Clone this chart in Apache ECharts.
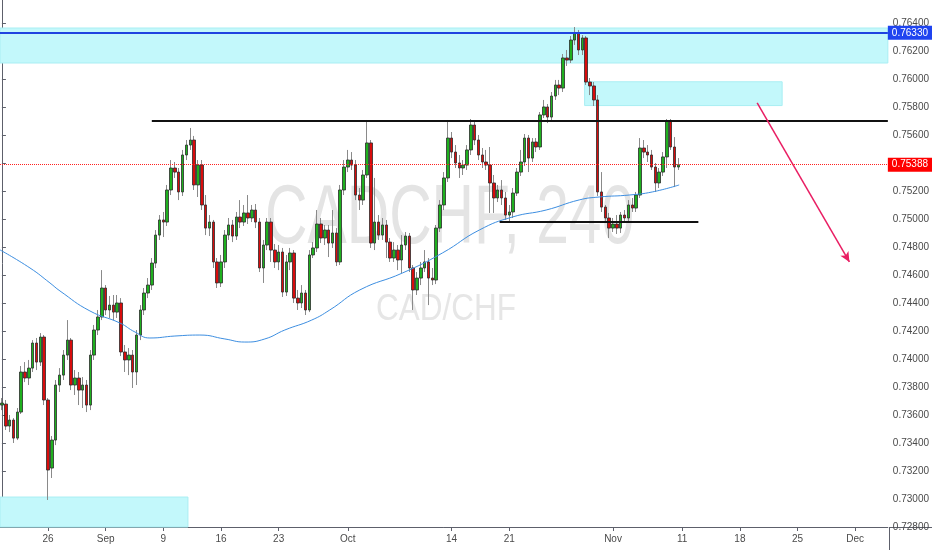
<!DOCTYPE html>
<html><head><meta charset="utf-8">
<script src="https://cdn.jsdelivr.net/npm/echarts@6/dist/echarts.min.js"></script>
<style>html,body{margin:0;padding:0;background:#fff}#c{width:932px;height:550px}</style>
</head><body><div id="c"></div>
<script>
// CAD/CHF 4h-ish candles: [open, close, low, high]
const candles = [
[0.73671,0.73685,0.73635,0.73721],[0.73678,0.73521,0.73493,0.73707],[0.73521,0.73564,0.73478,0.73600],
[0.73564,0.73435,0.73400,0.73578],[0.73435,0.73621,0.73421,0.73650],[0.73621,0.73907,0.73607,0.73950],
[0.73907,0.73864,0.73835,0.73978],[0.73864,0.73935,0.73814,0.73993],[0.73935,0.74114,0.73907,0.74135],
[0.74114,0.73978,0.73921,0.74150],[0.73978,0.74157,0.73950,0.74185],[0.74157,0.73707,0.73671,0.74171],
[0.73707,0.73207,0.72993,0.73721],[0.73221,0.73421,0.73150,0.73450],[0.73421,0.73814,0.73385,0.73850],
[0.73814,0.73885,0.73764,0.73935],[0.73885,0.74028,0.73850,0.74064],[0.74028,0.74135,0.73993,0.74278],
[0.74135,0.73814,0.73778,0.74150],[0.73814,0.73864,0.73743,0.73921],[0.73864,0.73778,0.73671,0.73907],
[0.73778,0.73814,0.73650,0.73871],[0.73814,0.73671,0.73621,0.73850],[0.73671,0.74028,0.73635,0.74064],
[0.74028,0.74207,0.73993,0.74243],[0.74207,0.74300,0.74171,0.74350],[0.74300,0.74507,0.74278,0.74635],
[0.74507,0.74350,0.74314,0.74528],[0.74350,0.74385,0.74293,0.74450],[0.74385,0.74335,0.74278,0.74457],
[0.74335,0.74400,0.74293,0.74457],[0.74400,0.74050,0.74021,0.74435],[0.74050,0.73993,0.73907,0.74100],
[0.73993,0.74028,0.73885,0.74078],[0.74028,0.73907,0.73793,0.74064],[0.73907,0.74171,0.73814,0.74207],
[0.74171,0.74350,0.74135,0.74385],[0.74350,0.74471,0.74314,0.74507],[0.74471,0.74528,0.74435,0.74578],
[0.74528,0.74685,0.74493,0.74721],[0.74685,0.74885,0.74650,0.74921],[0.74885,0.74993,0.74850,0.75028],
[0.74993,0.74978,0.74871,0.75050],[0.74978,0.75207,0.74950,0.75243],[0.75207,0.75364,0.75171,0.75421],
[0.75364,0.75335,0.75293,0.75407],[0.75335,0.75193,0.75135,0.75364],[0.75193,0.75457,0.75164,0.75493],
[0.75457,0.75528,0.75421,0.75564],[0.75528,0.75564,0.75493,0.75650],[0.75564,0.75243,0.75207,0.75593],
[0.75243,0.75385,0.75157,0.75421],[0.75385,0.75100,0.75064,0.75421],[0.75100,0.74935,0.74885,0.75171],
[0.74935,0.74978,0.74878,0.75028],[0.74978,0.74693,0.74650,0.74993],[0.74693,0.74543,0.74507,0.74721],
[0.74543,0.74693,0.74514,0.74743],[0.74693,0.74885,0.74650,0.74921],[0.74885,0.74957,0.74850,0.75007],
[0.74957,0.74878,0.74835,0.74993],[0.74878,0.75014,0.74850,0.75050],[0.75014,0.74978,0.74935,0.75135],
[0.74978,0.75043,0.74950,0.75100],[0.75043,0.75007,0.74964,0.75171],[0.75007,0.75064,0.74978,0.75100],
[0.75064,0.74978,0.74935,0.75107],[0.74978,0.74650,0.74621,0.75007],[0.74650,0.74814,0.74543,0.74850],
[0.74814,0.74978,0.74778,0.75007],[0.74978,0.74778,0.74693,0.75007],[0.74778,0.74693,0.74650,0.74821],
[0.74693,0.74764,0.74635,0.74814],[0.74764,0.74478,0.74443,0.74793],[0.74478,0.74693,0.74450,0.74743],
[0.74693,0.74757,0.74635,0.74793],[0.74757,0.74435,0.74400,0.74778],[0.74435,0.74400,0.74350,0.74493],
[0.74400,0.74471,0.74364,0.74528],[0.74471,0.74350,0.74314,0.74493],[0.74350,0.74743,0.74335,0.74778],
[0.74743,0.74793,0.74721,0.74835],[0.74793,0.74964,0.74764,0.75064],[0.74964,0.74864,0.74828,0.75007],
[0.74864,0.74921,0.74814,0.74957],[0.74921,0.74828,0.74728,0.74957],[0.74828,0.74900,0.74793,0.75064],
[0.74900,0.74693,0.74664,0.74935],[0.74693,0.75207,0.74671,0.75243],[0.75207,0.75371,0.75171,0.75421],
[0.75371,0.75421,0.75335,0.75493],[0.75421,0.75385,0.75350,0.75478],[0.75385,0.75171,0.75135,0.75421],
[0.75171,0.75135,0.75064,0.75221],[0.75135,0.75314,0.75100,0.75350],[0.75314,0.75543,0.75293,0.75707],
[0.75543,0.74828,0.74793,0.75564],[0.74828,0.74978,0.74778,0.75293],[0.74978,0.74885,0.74850,0.75028],
[0.74885,0.74957,0.74850,0.75007],[0.74957,0.74835,0.74721,0.74993],[0.74835,0.74721,0.74693,0.74864],
[0.74721,0.74778,0.74693,0.74835],[0.74778,0.74707,0.74635,0.74814],[0.74707,0.74814,0.74614,0.74885],
[0.74814,0.74878,0.74778,0.74907],[0.74878,0.74650,0.74621,0.74900],[0.74650,0.74493,0.74350,0.74671],
[0.74493,0.74578,0.74457,0.74621],[0.74578,0.74650,0.74528,0.74693],[0.74650,0.74693,0.74621,0.74778],
[0.74693,0.74578,0.74385,0.74721],[0.74578,0.74564,0.74528,0.74650],[0.74564,0.74935,0.74535,0.74957],
[0.74935,0.75100,0.74907,0.75135],[0.75100,0.75293,0.75064,0.75335],[0.75293,0.75578,0.75264,0.75707],
[0.75578,0.75478,0.75435,0.75621],[0.75478,0.75400,0.75364,0.75528],[0.75400,0.75364,0.75293,0.75457],
[0.75364,0.75385,0.75314,0.75421],[0.75385,0.75493,0.75350,0.75528],[0.75493,0.75671,0.75457,0.75714],
[0.75671,0.75564,0.75528,0.75707],[0.75564,0.75457,0.75421,0.75600],[0.75457,0.75407,0.75364,0.75507],
[0.75407,0.75385,0.75350,0.75493],[0.75385,0.75257,0.75043,0.75514],[0.75257,0.75150,0.75043,0.75314],
[0.75150,0.75207,0.75121,0.75243],[0.75207,0.75150,0.75100,0.75278],[0.75150,0.75028,0.74993,0.75193],
[0.75028,0.75050,0.74978,0.75100],[0.75050,0.75185,0.75007,0.75221],[0.75185,0.75335,0.75164,0.75364],
[0.75335,0.75407,0.75307,0.75493],[0.75407,0.75578,0.75378,0.75607],[0.75578,0.75435,0.75335,0.75600],
[0.75435,0.75550,0.75407,0.75578],[0.75550,0.75514,0.75478,0.75578],[0.75514,0.75743,0.75493,0.75764],
[0.75743,0.75800,0.75721,0.75850],[0.75800,0.75728,0.75685,0.75821],[0.75728,0.75878,0.75707,0.75907],
[0.75878,0.75957,0.75850,0.75993],[0.75957,0.75935,0.75885,0.75993],[0.75935,0.76150,0.75907,0.76178],
[0.76150,0.76135,0.76093,0.76207],[0.76135,0.76278,0.76114,0.76307],[0.76278,0.76328,0.76243,0.76371],
[0.76328,0.76207,0.76171,0.76350],[0.76207,0.76293,0.76171,0.76314],[0.76293,0.75978,0.75957,0.76307],
[0.75978,0.75950,0.75885,0.76007],[0.75950,0.75850,0.75807,0.75978],[0.75850,0.75193,0.75164,0.75885],
[0.75193,0.75085,0.75050,0.75335],[0.75085,0.75007,0.74978,0.75100],[0.75007,0.74935,0.74864,0.75043],
[0.74935,0.74964,0.74907,0.75007],[0.74964,0.74935,0.74893,0.75028],[0.74935,0.75028,0.74900,0.75050],
[0.75028,0.75007,0.74978,0.75064],[0.75007,0.75100,0.74978,0.75135],[0.75100,0.75078,0.75050,0.75150],
[0.75078,0.75171,0.75050,0.75193],[0.75171,0.75507,0.75150,0.75578],[0.75507,0.75478,0.75435,0.75564],
[0.75478,0.75457,0.75407,0.75528],[0.75457,0.75371,0.75350,0.75493],[0.75371,0.75257,0.75193,0.75400],
[0.75257,0.75335,0.75221,0.75364],[0.75335,0.75443,0.75307,0.75478],[0.75443,0.75700,0.75364,0.75714],
[0.75700,0.75514,0.75493,0.75714],[0.75514,0.75371,0.75228,0.75585],[0.75371,0.75388,0.75350,0.75435]
];
// moving average, [slot index, price]
const maPoints = [
[-0.5,0.74779],[7.3,0.74650],[12.5,0.74543],[15.1,0.74486],[22.9,0.74343],[30.7,0.74257],[34.6,0.74193],
[38.5,0.74150],[45.0,0.74164],[51.5,0.74171],[58.0,0.74143],[63.2,0.74121],[68.4,0.74143],[73.6,0.74207],
[80.6,0.74278],[85.3,0.74350],[93.1,0.74493],[104.2,0.74614],[114.6,0.74757],[124.2,0.74921],[132.8,0.75014],
[141.6,0.75064],[150.2,0.75136],[155.4,0.75157],[163.2,0.75171],[169.2,0.75193],[176.2,0.75243]
];
const slotCount = 231;
const xTickSlots  = [12, 27, 42, 57, 72, 90, 117, 132, 159, 177, 192, 207, 222];
const xTickLabels = ['26','Sep','9','16','23','Oct','14','21','Nov','11','18','25','Dec'];
const yMin = 0.728, yMax = 0.76564, yStep = 0.002;
const topZone = [0.76364, 0.76114];
const topLine = 0.7633;
const lastPrice = 0.75388;
const resistance = {from: 39, to: 230.5, price: 0.7570};
const support = {from: 129.5, to: 181.2, price: 0.7498};
const supplyBox = {from: 151.6, to: 203.0, top: 0.7598, bottom: 0.7581};
const demandBox = {from: -0.5, to: 48.4, top: 0.73014, bottom: 0.728};
const arrowPath = [[196.5, 0.75829], [220.5, 0.74693]];

const cats = Array.from({length: slotCount}, (_, i) => String(i));
const labelMap = {};
xTickSlots.forEach((s, k) => labelMap[s] = xTickLabels[k]);
const bodies = candles.map(c => [c[0], c[1], Math.min(c[0], c[1]), Math.max(c[0], c[1])]);

const chart = echarts.init(document.getElementById('c'), null, {renderer: 'canvas'});
const axisGray = '#5d606b';
const fontFam = 'Liberation Sans, Arial, sans-serif';
chart.setOption({
  animation: false,
  backgroundColor: '#fff',
  grid: {left: 0, right: 43, top: 0, bottom: 23, containLabel: false},
  xAxis: [{
    type: 'category', data: cats, boundaryGap: true,
    axisLine: {show: true, lineStyle: {color: axisGray, width: 1}},
    axisTick: {show: true, alignWithLabel: true, length: 4, lineStyle: {color: axisGray},
      interval: (i) => labelMap[i] !== undefined},
    axisLabel: {interval: (i) => labelMap[i] !== undefined, formatter: (v, i) => labelMap[i] || '',
      color: '#4a4a4a', fontSize: 10, fontFamily: fontFam, margin: 7},
    splitLine: {show: false}
  }, {
    type: 'value', min: -0.5, max: slotCount - 0.5, show: false
  }],
  yAxis: {
    type: 'value', position: 'right', min: yMin, max: yMax, interval: yStep, scale: true,
    axisLine: {show: true, lineStyle: {color: axisGray}},
    axisTick: {show: true, length: 4, lineStyle: {color: axisGray}},
    axisLabel: {showMaxLabel: false, color: '#4a4a4a', fontSize: 10, fontFamily: fontFam, margin: 5,
      formatter: v => Math.abs(v / yStep - Math.round(v / yStep)) < 1e-6 ? v.toFixed(5) : ''},
    splitLine: {show: false}
  },
  graphic: [
    {type: 'text', z: 0, left: 265, top: 178, scaleX: 0.7,
      style: {text: 'CADCHF, 240', fill: '#e4e4e4', font: '84px ' + fontFam}},
    {type: 'text', z: 0, left: 376, top: 292, scaleX: 0.875,
      style: {text: 'CAD/CHF', fill: '#e6e6e6', font: '36px ' + fontFam}},
    {type: 'line', shape: {x1: 889, y1: 527.5, x2: 932, y2: 527.5}, style: {stroke: axisGray, lineWidth: 1}},
    {type: 'line', shape: {x1: 889.5, y1: 527, x2: 889.5, y2: 550}, style: {stroke: axisGray, lineWidth: 1}}
  ],
  series: [
    {
      type: 'line', xAxisIndex: 1, data: [], z: 1, silent: true,
      markArea: {silent: true, itemStyle: {color: '#c3f8fb', borderColor: '#a9eef3', borderWidth: 1},
        data: [
          [{coord: [-0.5, topZone[0]]}, {coord: [slotCount - 0.5, topZone[1]]}],
          [{coord: [supplyBox.from, supplyBox.top]}, {coord: [supplyBox.to, supplyBox.bottom]}],
          [{coord: [demandBox.from, demandBox.top]}, {coord: [demandBox.to, demandBox.bottom]}]
        ]}
    },
    {
      type: 'candlestick', data: candles, barWidth: 1, z: 2, silent: true,
      itemStyle: {color: '#8a8a8a', color0: '#8a8a8a', borderColor: '#8a8a8a', borderColor0: '#8a8a8a', borderWidth: 1}
    },
    {
      type: 'candlestick', data: bodies, barWidth: 3, z: 3, silent: true,
      itemStyle: {color: '#1fb01f', color0: '#d80c0c', borderColor: '#2b2b2b', borderColor0: '#2b2b2b', borderWidth: 0.8}
    },
    {
      type: 'line', xAxisIndex: 1, data: maPoints, smooth: true, showSymbol: false, z: 4, silent: true,
      lineStyle: {color: '#3d8ee0', width: 1},
      markLine: {silent: true, symbol: 'none', precision: 5,
        data: [
          [{coord: [resistance.from, resistance.price]}, {coord: [resistance.to, resistance.price]}],
          [{coord: [support.from, support.price]}, {coord: [support.to, support.price]}],
          [{coord: arrowPath[0], symbol: 'none'}, {coord: arrowPath[1], symbol: 'arrow', symbolSize: [7, 10],
            lineStyle: {color: '#e91e63', width: 1.5, type: 'solid'}}]
        ],
        lineStyle: {color: '#111', width: 2, type: 'solid'},
        label: {show: false}}
    },
    {
      type: 'line', xAxisIndex: 1, data: [], z: 5, silent: true,
      markLine: {silent: true, symbol: 'none', precision: 5,
        data: [
          {yAxis: topLine, lineStyle: {color: '#1f44e0', width: 2, type: 'solid'},
            label: {show: true, position: 'end', distance: 0, formatter: p => Number(p.value).toFixed(5),
              color: '#fff', backgroundColor: '#1f44f0', padding: [2, 4, 2, 4], fontSize: 10, fontFamily: fontFam}},
          {yAxis: lastPrice, lineStyle: {color: '#ff2020', width: 1, type: 'dotted'},
            label: {show: true, position: 'end', distance: 0, formatter: p => Number(p.value).toFixed(5),
              color: '#fff', backgroundColor: '#ff0000', padding: [2, 4, 2, 4], fontSize: 10, fontFamily: fontFam}}
        ]}
    }
  ]
});
</script></body></html>
